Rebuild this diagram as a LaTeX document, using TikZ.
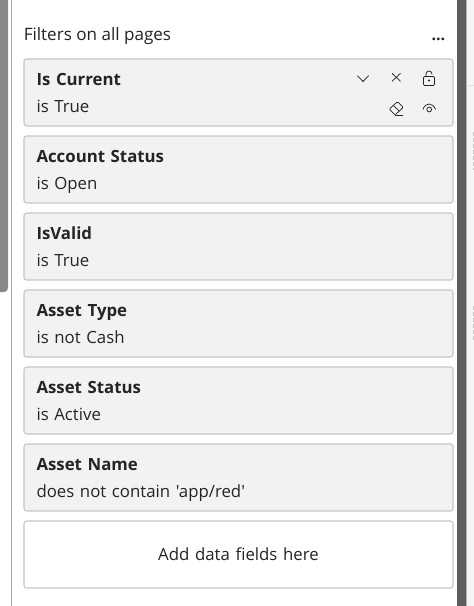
\documentclass[tikz,border=0pt]{standalone}
\usepackage{fontspec}
\setmainfont[Ligatures=TeXOff]{Open Sans}
\usetikzlibrary{positioning}
\definecolor{cardfill}{HTML}{F3F2F1}
\definecolor{cardline}{HTML}{C8C6C4}
\definecolor{inktext}{HTML}{252423}
\definecolor{leftbar}{HTML}{8A8886}
\definecolor{rightbar}{HTML}{605E5C}
\newcommand{\cardstrut}{\rule[-5.5pt]{0pt}{20.25pt}}
\tikzstyle{card} = [
    rectangle, draw=cardline, fill=cardfill, line width=0.8pt, rounded corners=2pt,
    minimum width=321.75pt, minimum height=50.25pt, % 429 x 67 px
    inner ysep=0pt, outer sep=0pt,
    text width=303pt, align=left, text=inktext,
    font=\fontsize{12.6pt}{20.25pt}\selectfont,
    execute at begin node={\cardstrut}, execute at end node={\cardstrut}
]
\tikzstyle{icon} = [draw=inktext, line width=0.55pt]

\begin{document}
\begin{tikzpicture}[x=0.75pt, y=-0.75pt, node distance=7.5pt]
        \useasboundingbox (0,0) rectangle (474,606);
        \fill[white] (0,0) rectangle (474,606);

        % Page strip on the right
        \fill[black!4] (466,0) rectangle (474,606);
        \fill[black!30] (466,0) rectangle (467,606);
        \fill[black!12] (467,85) rectangle (474,86);
        \draw[black!22, line width=0.75pt, dash pattern=on 3pt off 1.5pt] (473,132) -- (473,170);
        \draw[black!22, line width=0.75pt, dash pattern=on 3pt off 1.5pt] (473,306) -- (473,342);
        \fill[leftbar] (0,0) -- (8,0) -- (8,288) arc (0:90:4) -- (0,292) -- cycle;
        \fill[black!35] (11,0) rectangle (12,606);
        \fill[rightbar] (457,0) rectangle (466,606);

        % Heading
        \node[anchor=base west, inner sep=0pt, text=inktext, font=\fontsize{12.8pt}{15pt}\selectfont] (heading) at (23.5,40.5) {Filters on all pages};
        \node[anchor=base east, inner sep=0pt, text=inktext, font=\bfseries\fontsize{12pt}{13pt}\selectfont] (more) at (445.5,40.5) {...};

        % Filter cards
        \node[card, anchor=north west] (current) at (24,59) {\textbf{Is Current} \\ is True};
        \node[card] (status) [below=of current] {\textbf{Account Status} \\ is Open};
        \node[card] (valid) [below=of status] {\textbf{IsValid} \\ is True};
        \node[card] (type) [below=of valid] {\textbf{Asset Type} \\ is not Cash};
        \node[card] (assetstatus) [below=of type] {\textbf{Asset Status} \\ is Active};
        \node[card] (name) [below=of assetstatus] {\textbf{Asset Name} \\ does not contain 'app/red'};
        \node[card, fill=white, align=center] (add) [below=of name] {Add data fields here};

        % Card icons
        \draw[icon] (357.3,75.7) -- (363,81.5) -- (368.7,75.7);
        \draw[icon] (392,73.3) -- (400.5,81.3);
        \draw[icon] (400.5,73.3) -- (392,81.3);
        \draw[icon, rounded corners=0.8pt] (423.5,76.5) rectangle (434.5,85.5);
        \draw[icon] (426,76.5) -- (426,74) arc (180:360:3) -- (432,74.5);
        \fill[inktext] (429,80.5) circle (1.1);
        \draw[icon, rounded corners=0.8pt] (389.3,109) -- (397.5,101.7) -- (403.3,107.3) -- (395,115) -- cycle;
        \draw[icon] (393,105.3) -- (399.3,111);
        \draw[icon] (395,115.5) -- (403,115.5);
        \draw[icon] (423,109.5) .. controls (425,102.2) and (433,102.2) .. (435.5,109.5);
        \draw[icon] (429.2,109.5) circle (2.4);

    \end{tikzpicture}
\end{document}
